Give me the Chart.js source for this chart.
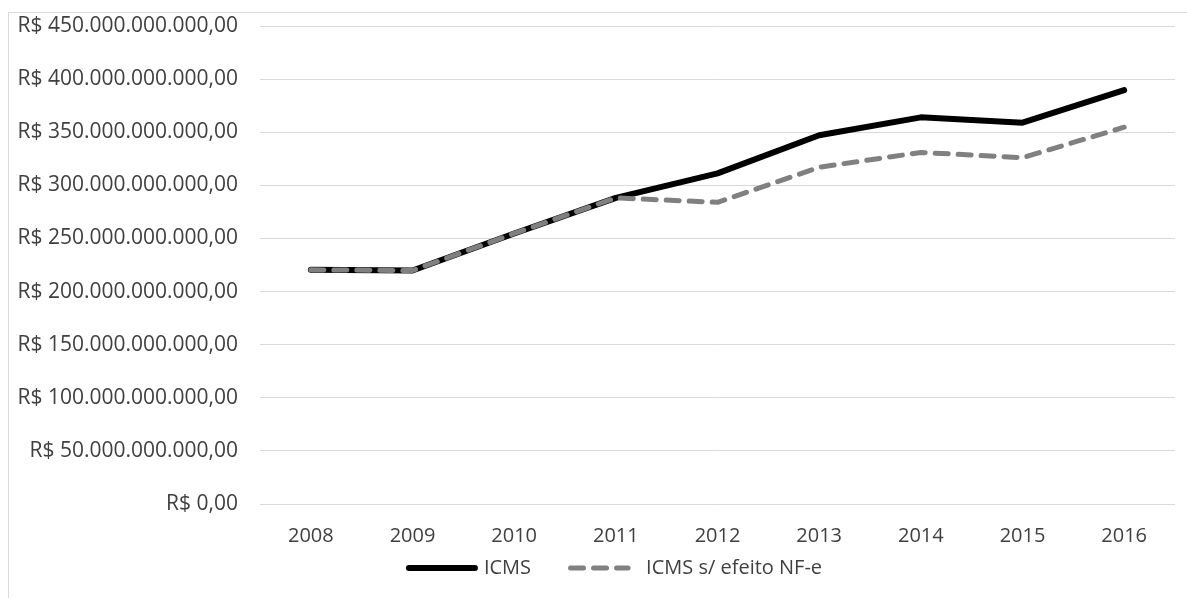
<!DOCTYPE html>
<html lang="pt-BR">
<head>
<meta charset="utf-8">
<title>ICMS</title>
<script src="https://cdn.jsdelivr.net/npm/chart.js@4.4.1/dist/chart.umd.min.js"></script>
<style>
  html, body { margin: 0; padding: 0; background: #ffffff; }
  #wrap { position: relative; width: 1187px; height: 598px; overflow: hidden; }
  #frame {
    position: absolute; left: 8px; top: 12px; right: -2px; bottom: -2px;
    border-left: 1px solid #d9d9d9; border-top: 1px solid #d9d9d9;
  }
  #c { position: absolute; left: 0; top: 0; }
</style>
</head>
<body>
<div id="wrap">
  <div id="frame"></div>
  <canvas id="c" width="1187" height="598"></canvas>
</div>
<script>
// Anos da série
const anos = ['2008', '2009', '2010', '2011', '2012', '2013', '2014', '2015', '2016'];

// Arrecadação de ICMS (R$ bilhões)
const icmsBi = [220.5, 219.8, 254.7, 288.2, 311.3, 347.2, 364.0, 359.0, 389.6];

// ICMS sem o efeito da NF-e (R$ bilhões)
const icmsSemNfeBi = [220.5, 219.8, 254.7, 288.2, 284.0, 317.0, 331.0, 326.0, 354.7];

const nomesSeries = ['ICMS', 'ICMS s/ efeito NF-e'];

const BI = 1e9;
const icms = icmsBi.map(v => v * BI);
const icmsSemNfe = icmsSemNfeBi.map(v => v * BI);

const FONTE = '"Open Sans", "Noto Sans", sans-serif';
const COR_TEXTO = '#404040';

// Formata em moeda brasileira: R$ 450.000.000.000,00
function formatarReais(v) {
  const inteiro = Math.round(v).toString().replace(/\B(?=(\d{3})+(?!\d))/g, '.');
  return 'R$ ' + inteiro + ',00';
}

// Legenda desenhada com o mesmo estilo de linha de cada série
const legendaLinhas = {
  id: 'legendaLinhas',
  afterDraw(chart) {
    const ctx = chart.ctx;
    const ds = chart.data.datasets;
    ctx.save();
    ctx.font = '20px ' + FONTE;
    ctx.textBaseline = 'middle';
    ctx.fillStyle = COR_TEXTO;
    const y = 568;
    const amostra = 72;
    const gapTexto = 6;
    const gapItem = 37;
    const w0 = ctx.measureText(ds[0].label).width;
    const w1 = ctx.measureText(ds[1].label).width;
    const total = amostra + gapTexto + w0 + gapItem + amostra + gapTexto + w1;
    let x = 614 - total / 2;
    ds.forEach((d) => {
      ctx.save();
      ctx.strokeStyle = d.borderColor;
      ctx.lineWidth = d.borderWidth;
      ctx.lineCap = 'round';
      ctx.setLineDash(d.borderDash || []);
      const r = d.borderWidth / 2;
      ctx.beginPath();
      ctx.moveTo(x + r, y);
      ctx.lineTo(x + (d.borderDash ? amostra - 12 : amostra - r), y);
      ctx.stroke();
      ctx.restore();
      ctx.fillText(d.label, x + amostra + gapTexto, y);
      x += amostra + gapTexto + ctx.measureText(d.label).width + gapItem;
    });
    ctx.restore();
  }
};

new Chart(document.getElementById('c'), {
  type: 'line',
  data: {
    labels: anos,
    datasets: [
      {
        label: nomesSeries[0],
        data: icms,
        borderColor: '#000000',
        backgroundColor: '#000000',
        borderWidth: 6,
        borderCapStyle: 'round',
        borderJoinStyle: 'round',
        pointRadius: 0,
        tension: 0,
        order: 2
      },
      {
        label: nomesSeries[1],
        data: icmsSemNfe,
        borderColor: '#808080',
        backgroundColor: '#808080',
        borderWidth: 5,
        borderDash: [13, 10],
        borderCapStyle: 'round',
        borderJoinStyle: 'round',
        pointRadius: 0,
        tension: 0,
        order: 1
      }
    ]
  },
  options: {
    responsive: false,
    animation: false,
    events: [],
    layout: { padding: { left: 0, right: 12, top: 26, bottom: 0 } },
    plugins: {
      legend: { display: false },
      tooltip: { enabled: false },
      title: { display: false }
    },
    scales: {
      x: {
        offset: true,
        grid: { display: false, drawTicks: false },
        border: { display: false },
        ticks: {
          color: COR_TEXTO,
          font: { family: FONTE, size: 20 },
          padding: 20,
          maxRotation: 0
        },
        afterFit(s) { s.height = 94; s.paddingLeft = 0; s.paddingRight = 0; }
      },
      y: {
        min: 0,
        max: 450 * BI,
        grid: { color: '#d9d9d9', lineWidth: 1, drawTicks: false },
        border: { display: false },
        ticks: {
          stepSize: 50 * BI,
          color: COR_TEXTO,
          font: { family: FONTE, size: 21 },
          padding: 22,
          callback: v => formatarReais(v)
        },
        afterFit(s) { s.width = 260; s.paddingTop = 0; s.paddingBottom = 0; }
      }
    }
  },
  plugins: [legendaLinhas]
});
</script>
</body>
</html>
